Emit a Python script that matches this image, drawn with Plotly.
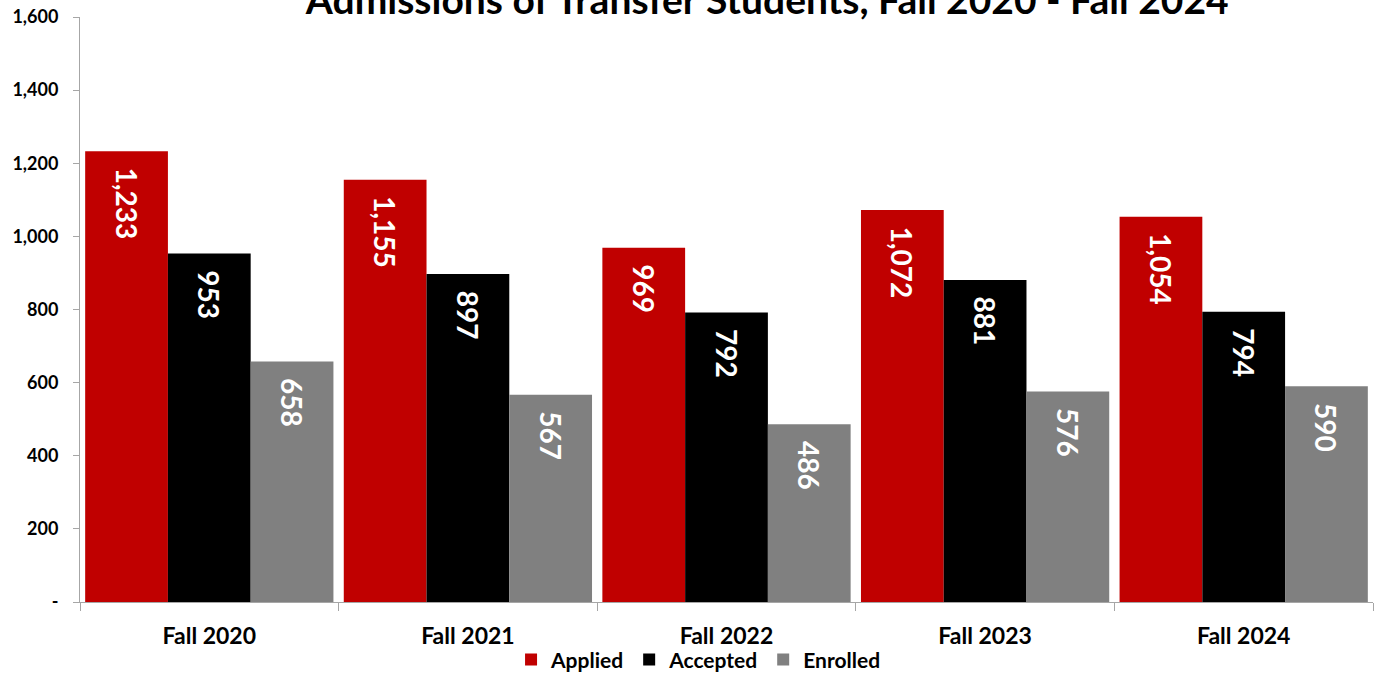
import plotly.graph_objects as go

terms = ['Fall 2020', 'Fall 2021', 'Fall 2022', 'Fall 2023', 'Fall 2024']
applied = [1233, 1155, 969, 1072, 1054]
accepted = [953, 897, 792, 881, 794]
enrolled = [658, 567, 486, 576, 590]

series = [
    ('Applied', applied, '#C00000'),
    ('Accepted', accepted, '#000000'),
    ('Enrolled', enrolled, '#808080'),
]

font_family = 'Lato, Open Sans, sans-serif'
pad = '\u00a0\u00a0'  # keeps the value labels a little below the bar top

fig = go.Figure()
for name, vals, color in series:
    fig.add_trace(go.Bar(
        x=terms,
        y=vals,
        name=name,
        marker_color=color,
        marker_line_width=0,
        texttemplate=pad + '%{y:,}',
        textposition='inside',
        insidetextanchor='end',
        textangle=90,
        constraintext='none',
        textfont=dict(family=font_family, size=28, color='white', weight='bold'),
        hoverinfo='skip',
    ))

fig.update_layout(
    title=dict(
        text='Admissions of Transfer Students, Fall 2020 - Fall 2024',
        x=0.558, xref='container', xanchor='center',
        y=0.979, yref='container', yanchor='bottom',
        font=dict(family=font_family, size=39, color='black', weight='bold'),
    ),
    barmode='group',
    bargap=0.04,
    bargroupgap=0,
    width=1375,
    height=673,
    margin=dict(l=80, r=2, t=17, b=71, autoexpand=False),
    plot_bgcolor='white',
    paper_bgcolor='white',
    showlegend=True,
    legend=dict(
        orientation='h',
        x=0.478, xanchor='center',
        y=-0.064, yanchor='top',
        bgcolor='rgba(0,0,0,0)',
        font=dict(family=font_family, size=21, color='black', weight='bold'),
        itemwidth=30,
        traceorder='normal',
    ),
    font=dict(family=font_family, color='black'),
)

fig.update_xaxes(
    showline=True, linecolor='#A6A6A6', linewidth=1,
    ticks='outside', tickson='boundaries', ticklen=8, tickcolor='#A6A6A6',
    ticklabelstandoff=13,
    tickfont=dict(family=font_family, size=23, color='black', weight='bold'),
    showgrid=False,
)
fig.update_yaxes(
    range=[0, 1600],
    tickvals=[0, 200, 400, 600, 800, 1000, 1200, 1400, 1600],
    ticktext=['-', '200', '400', '600', '800', '1,000', '1,200', '1,400', '1,600'],
    showline=True, linecolor='#A6A6A6', linewidth=1,
    ticks='outside', ticklen=6, tickcolor='#A6A6A6',
    ticklabelstandoff=11,
    tickfont=dict(family=font_family, size=18, color='black', weight='bold'),
    showgrid=False,
    zeroline=False,
)

# page body has a default 8px margin; drop it so the figure fills the window
fig.write_html(
    'out.html',
    config={'displayModeBar': False},
    post_script="document.body.style.margin = '0';",
)
